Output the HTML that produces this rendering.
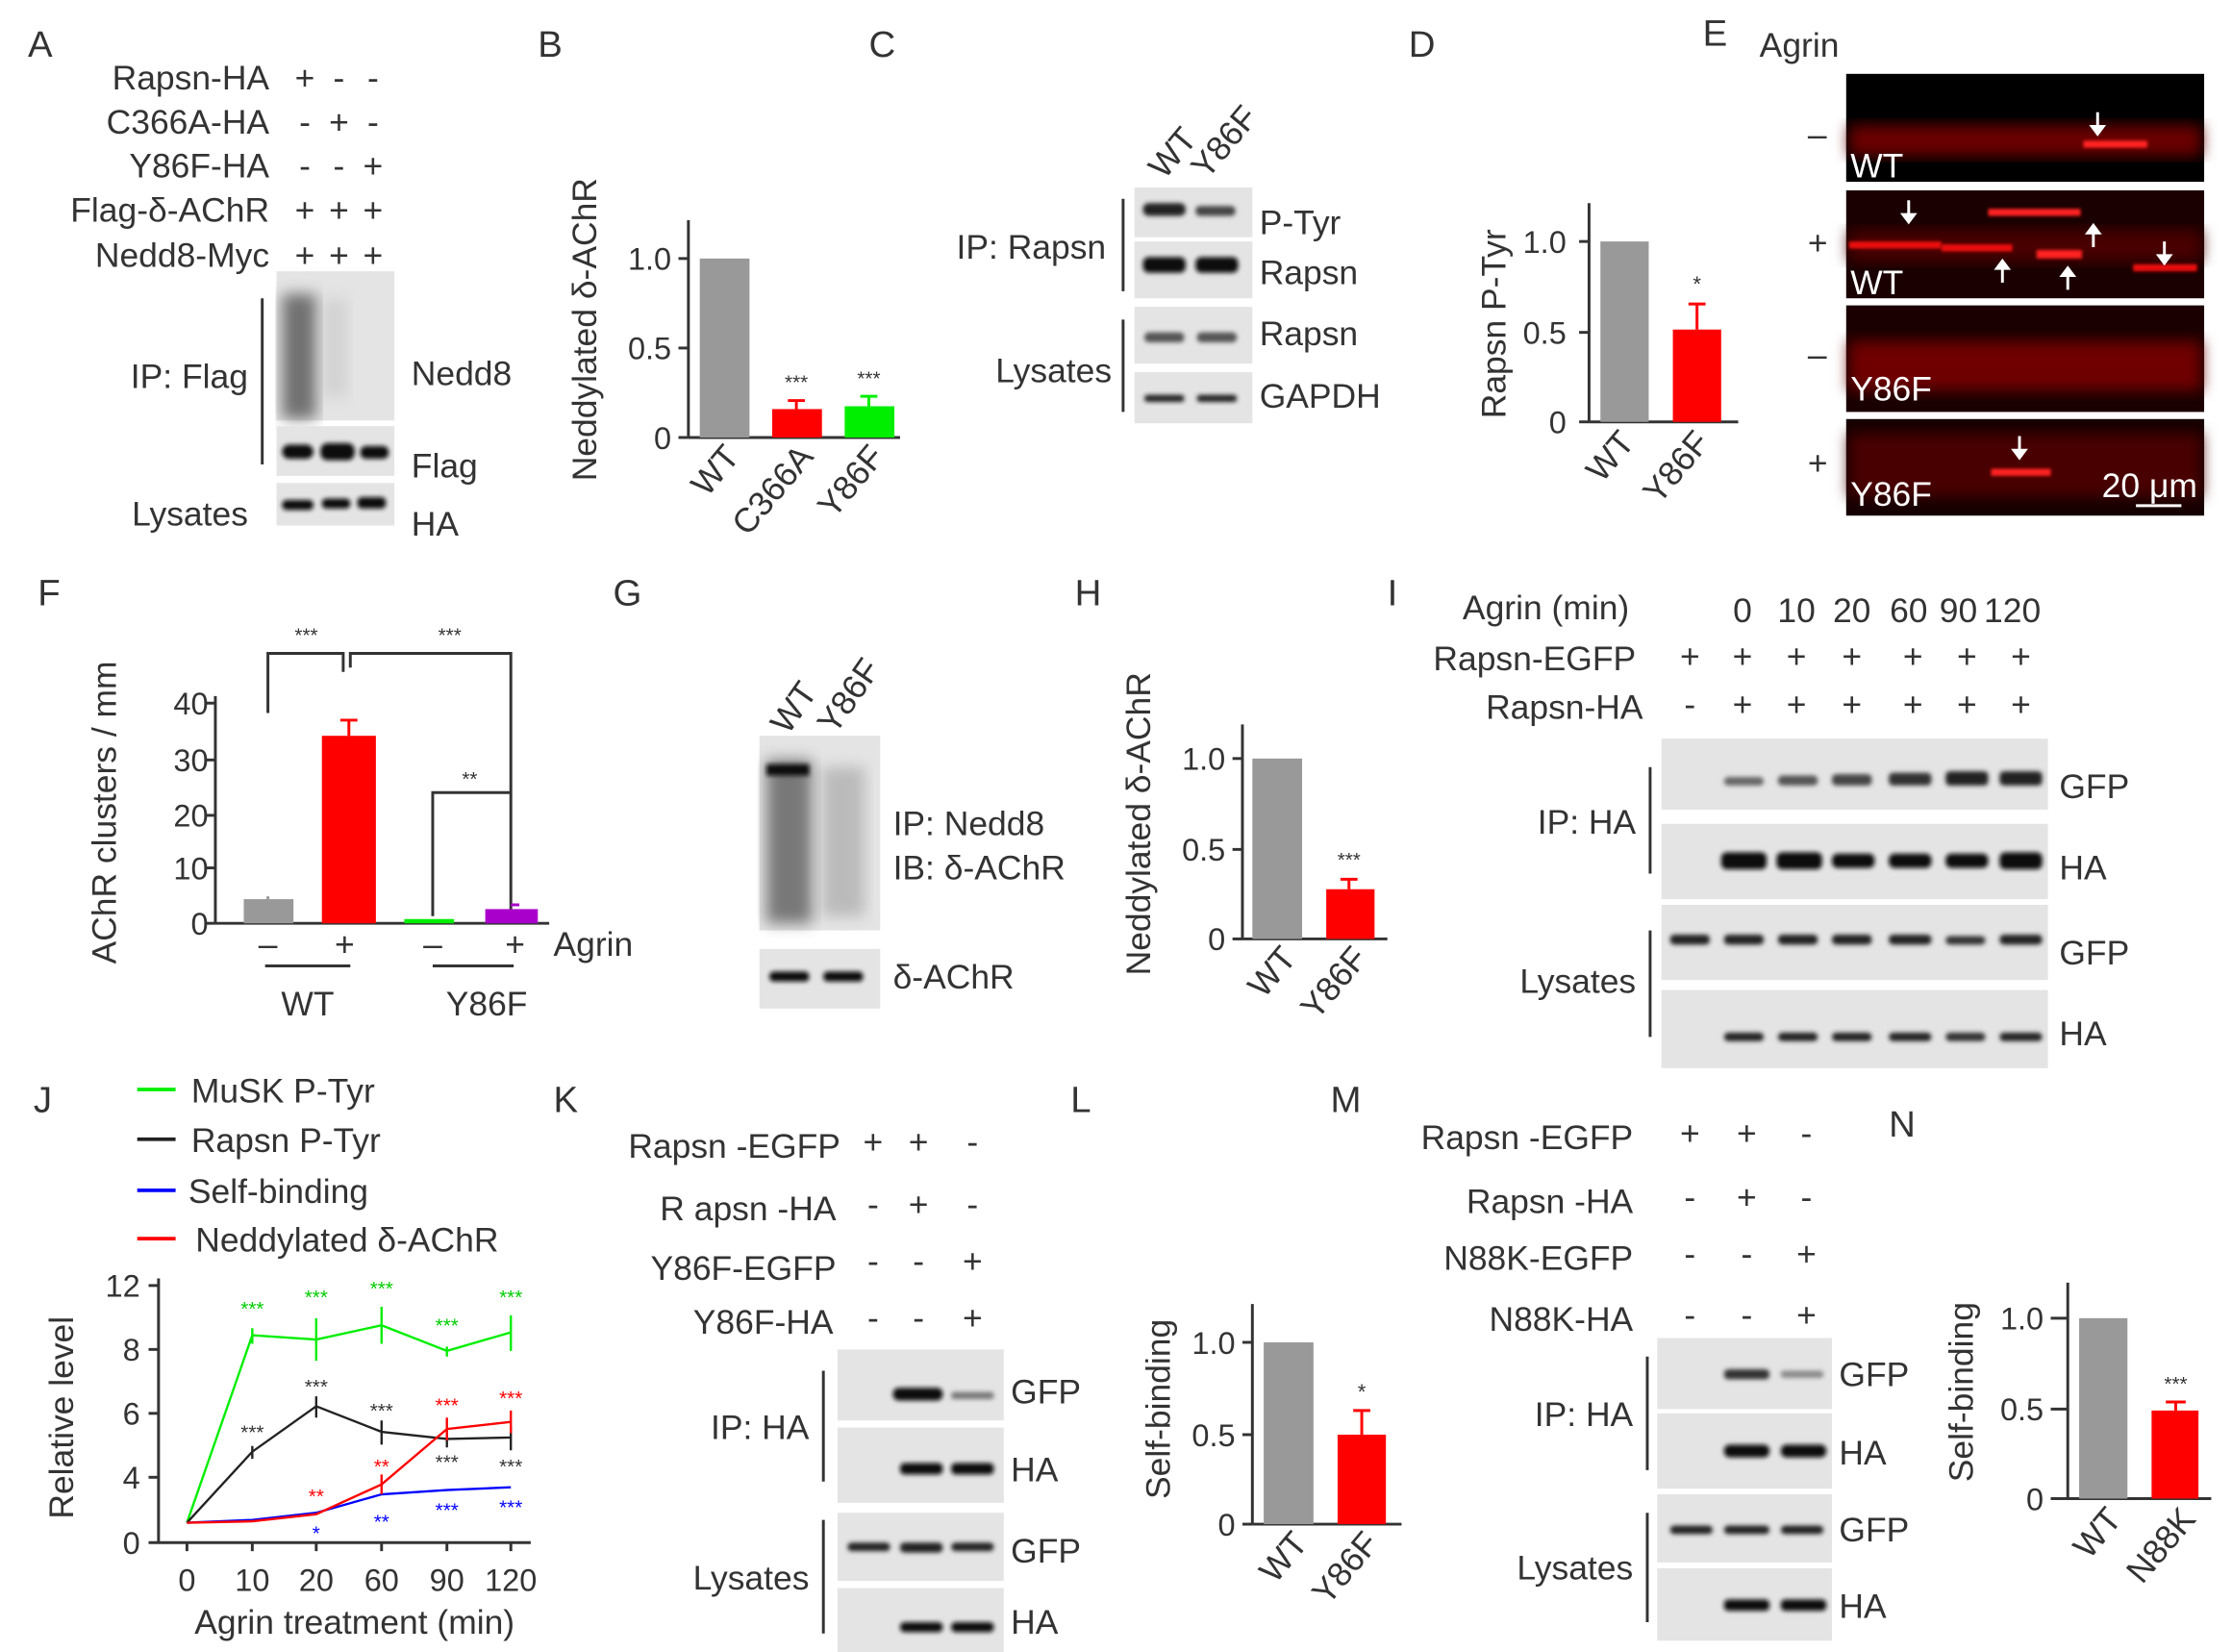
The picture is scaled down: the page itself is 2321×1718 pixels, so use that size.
<!DOCTYPE html>
<html><head><meta charset="utf-8"><style>
html,body{margin:0;padding:0;background:#fff;}
svg{display:block;}
text{font-family:"Liberation Sans",Arial,sans-serif;fill:#333;}
</style></head><body>
<svg width="2321" height="1718" viewBox="0 0 1568 1163" xmlns="http://www.w3.org/2000/svg">
<defs>
<filter id="bl" x="-20%" y="-50%" width="140%" height="200%"><feGaussianBlur stdDeviation="1.6"/></filter>
<filter id="bl2" x="-20%" y="-20%" width="140%" height="140%"><feGaussianBlur stdDeviation="5"/></filter>
<filter id="bl3" x="-20%" y="-50%" width="140%" height="200%"><feGaussianBlur stdDeviation="1"/></filter>
</defs>
<g font-size="26">
<text x="18" y="40">A</text><text x="377" y="40">B</text><text x="610" y="40">C</text><text x="990" y="40">D</text><text x="1197" y="32">E</text>
<text x="25" y="426">F</text><text x="430" y="426">G</text><text x="755" y="426">H</text><text x="975" y="426">I</text>
<text x="22" y="783">J</text><text x="388" y="783">K</text><text x="752" y="783">L</text><text x="935" y="783">M</text><text x="1328" y="800">N</text>
</g>

<!-- Panel A -->
<g font-size="24">
<g text-anchor="end">
<text x="188" y="63">Rapsn-HA</text><text x="188" y="94">C366A-HA</text><text x="188" y="125">Y86F-HA</text><text x="188" y="156">Flag-δ-AChR</text><text x="188" y="188">Nedd8-Myc</text>
<text x="173" y="273">IP: Flag</text><text x="173" y="370">Lysates</text>
</g>
<g text-anchor="middle">
<text x="213" y="63">+</text><text x="237" y="63">-</text><text x="261" y="63">-</text>
<text x="213" y="94">-</text><text x="237" y="94">+</text><text x="261" y="94">-</text>
<text x="213" y="125">-</text><text x="237" y="125">-</text><text x="261" y="125">+</text>
<text x="213" y="156">+</text><text x="237" y="156">+</text><text x="261" y="156">+</text>
<text x="213" y="188">+</text><text x="237" y="188">+</text><text x="261" y="188">+</text></g>
<text x="288" y="271">Nedd8</text><text x="288" y="336">Flag</text><text x="288" y="377">HA</text>
</g>
<line x1="183" y1="210" x2="183" y2="327" stroke="#333" stroke-width="2"/>
<rect x="193" y="191" width="83" height="105" fill="#e4e4e4"/>
<rect x="197" y="207" width="24" height="88" fill="#555" filter="url(#bl2)" opacity="0.8"/>
<rect x="225" y="210" width="18" height="70" fill="#aaa" filter="url(#bl2)" opacity="0.3"/>
<rect x="193" y="300" width="83" height="35" fill="#e4e4e4"/>
<rect x="197" y="313" width="22" height="10" rx="5" fill="#111" filter="url(#bl)"/><rect x="224" y="312" width="24" height="12" rx="5" fill="#111" filter="url(#bl)"/><rect x="252" y="314" width="20" height="9" rx="4" fill="#111" filter="url(#bl)"/>
<rect x="193" y="340" width="83" height="30" fill="#e4e4e4"/>
<rect x="197" y="352" width="22" height="7" rx="3" fill="#111" filter="url(#bl)"/><rect x="225" y="351" width="20" height="7" rx="3" fill="#111" filter="url(#bl)"/><rect x="250" y="350" width="20" height="8" rx="3" fill="#111" filter="url(#bl)"/>

<!-- Panel B -->
<g stroke="#333" stroke-width="2" fill="none">
<line x1="483" y1="155" x2="483" y2="308"/><line x1="483" y1="308" x2="632" y2="308"/>
<line x1="476" y1="182" x2="483" y2="182"/><line x1="476" y1="245" x2="483" y2="245"/><line x1="476" y1="308" x2="483" y2="308"/>
</g>
<rect x="491" y="182" width="35" height="126" fill="#999"/>
<rect x="542" y="288" width="35" height="20" fill="#f00"/><line x1="559" y1="282" x2="559" y2="288" stroke="#f00" stroke-width="2"/><line x1="553" y1="282" x2="565" y2="282" stroke="#f00" stroke-width="2"/>
<rect x="593" y="286" width="35" height="22" fill="#0e0"/><line x1="610" y1="279" x2="610" y2="286" stroke="#0e0" stroke-width="2"/><line x1="604" y1="279" x2="616" y2="279" stroke="#0e0" stroke-width="2"/>
<g font-size="22" text-anchor="end"><text x="471" y="190">1.0</text><text x="471" y="253">0.5</text><text x="471" y="316">0</text></g>
<g font-size="14" text-anchor="middle"><text x="559" y="274">***</text><text x="610" y="271">***</text></g>
<text transform="translate(418,232) rotate(-90)" font-size="24" text-anchor="middle">Neddylated δ-AChR</text>
<g font-size="24" text-anchor="end"><text transform="translate(520,322) rotate(-50)">WT</text><text transform="translate(572,322) rotate(-50)">C366A</text><text transform="translate(622,322) rotate(-50)">Y86F</text></g>

<!-- Panel C -->
<g font-size="24"><text transform="translate(818,127) rotate(-50)">WT</text><text transform="translate(848,127) rotate(-50)">Y86F</text>
<text x="885" y="165">P-Tyr</text><text x="885" y="200">Rapsn</text><text x="885" y="243">Rapsn</text><text x="885" y="287">GAPDH</text>
<text x="777" y="182" text-anchor="end">IP: Rapsn</text><text x="781" y="269" text-anchor="end">Lysates</text></g>
<line x1="789" y1="140" x2="789" y2="205" stroke="#333" stroke-width="2"/><line x1="789" y1="225" x2="789" y2="290" stroke="#333" stroke-width="2"/>
<rect x="797" y="132" width="83" height="35" fill="#e4e4e4"/><rect x="797" y="170" width="83" height="40" fill="#e4e4e4"/><rect x="797" y="216" width="83" height="40" fill="#e4e4e4"/><rect x="797" y="262" width="83" height="36" fill="#e4e4e4"/>
<rect x="803" y="143" width="30" height="9" rx="4" fill="#222" filter="url(#bl)"/><rect x="840" y="145" width="28" height="7" rx="3" fill="#444" filter="url(#bl)"/>
<rect x="803" y="181" width="30" height="11" rx="4" fill="#111" filter="url(#bl)"/><rect x="840" y="181" width="30" height="11" rx="4" fill="#111" filter="url(#bl)"/>
<rect x="804" y="234" width="28" height="7" rx="3" fill="#555" filter="url(#bl)"/><rect x="841" y="234" width="28" height="7" rx="3" fill="#555" filter="url(#bl)"/>
<rect x="804" y="278" width="28" height="5" rx="2" fill="#222" filter="url(#bl)"/><rect x="841" y="278" width="28" height="5" rx="2" fill="#222" filter="url(#bl)"/>

<!-- Panel D -->
<g stroke="#333" stroke-width="2"><line x1="1117" y1="143" x2="1117" y2="297"/><line x1="1117" y1="297" x2="1222" y2="297"/>
<line x1="1110" y1="170" x2="1117" y2="170"/><line x1="1110" y1="234" x2="1117" y2="234"/><line x1="1110" y1="297" x2="1117" y2="297"/></g>
<rect x="1125" y="170" width="34" height="127" fill="#999"/>
<rect x="1176" y="232" width="34" height="65" fill="#f00"/><line x1="1193" y1="214" x2="1193" y2="232" stroke="#f00" stroke-width="2"/><line x1="1187" y1="214" x2="1199" y2="214" stroke="#f00" stroke-width="2"/>
<text x="1193" y="205" font-size="15" text-anchor="middle">*</text>
<g font-size="22" text-anchor="end"><text x="1101" y="178">1.0</text><text x="1101" y="242">0.5</text><text x="1101" y="305">0</text></g>
<text transform="translate(1058,228) rotate(-90)" font-size="24" text-anchor="middle">Rapsn P-Tyr</text>
<g font-size="24" text-anchor="end"><text transform="translate(1150,312) rotate(-50)">WT</text><text transform="translate(1203,312) rotate(-50)">Y86F</text></g>

<!-- Panel E -->
<text x="1237" y="40" font-size="24">Agrin</text>
<g font-size="24"><text x="1271" y="103">–</text><text x="1271" y="179">+</text><text x="1271" y="258">–</text><text x="1271" y="334">+</text></g>
<rect x="1298" y="52" width="252" height="76" fill="#000"/>
<rect x="1300" y="88" width="248" height="22" fill="#6a0000" filter="url(#bl2)"/>
<rect x="1465" y="99" width="45" height="5" fill="#f22" filter="url(#bl3)"/>
<rect x="1298" y="134" width="252" height="76" fill="#1a0000"/>
<rect x="1300" y="162" width="248" height="22" fill="#4a0000" filter="url(#bl2)"/>
<rect x="1398" y="147" width="65" height="5" fill="#f22" filter="url(#bl3)"/><rect x="1300" y="170" width="65" height="5" fill="#e11" filter="url(#bl3)"/><rect x="1365" y="172" width="50" height="5" fill="#e11" filter="url(#bl3)"/><rect x="1432" y="176" width="32" height="6" fill="#f22" filter="url(#bl3)"/><rect x="1500" y="186" width="45" height="5" fill="#e11" filter="url(#bl3)"/>
<rect x="1298" y="215" width="252" height="75" fill="#1a0000"/><rect x="1300" y="240" width="248" height="35" fill="#700000" filter="url(#bl2)"/>
<rect x="1298" y="295" width="252" height="68" fill="#150000"/><rect x="1300" y="305" width="248" height="45" fill="#4a0000" filter="url(#bl2)"/><rect x="1400" y="330" width="42" height="5" fill="#f22" filter="url(#bl3)"/>
<g font-size="24"><text x="1301" y="125" style="fill:#fff">WT</text><text x="1301" y="207" style="fill:#fff">WT</text><text x="1301" y="282" style="fill:#fff">Y86F</text><text x="1301" y="356" style="fill:#fff">Y86F</text><text x="1478" y="350" style="fill:#fff">20 μm</text></g>
<line x1="1502" y1="356" x2="1534" y2="356" stroke="#fff" stroke-width="2"/>
<g fill="#fff" stroke="#fff" stroke-width="2">
<line x1="1475" y1="79" x2="1475" y2="90"/><polygon points="1469,88 1481,88 1475,96" stroke="none"/>
<line x1="1342" y1="141" x2="1342" y2="152"/><polygon points="1336,150 1348,150 1342,158" stroke="none"/>
<line x1="1522" y1="170" x2="1522" y2="181"/><polygon points="1516,179 1528,179 1522,187" stroke="none"/>
<line x1="1408" y1="188" x2="1408" y2="199"/><polygon points="1402,190 1414,190 1408,182" stroke="none"/>
<line x1="1454" y1="193" x2="1454" y2="204"/><polygon points="1448,195 1460,195 1454,187" stroke="none"/>
<line x1="1472" y1="163" x2="1472" y2="174"/><polygon points="1466,165 1478,165 1472,157" stroke="none"/>
<line x1="1420" y1="307" x2="1420" y2="318"/><polygon points="1414,316 1426,316 1420,324" stroke="none"/>
</g>

<!-- Panel F -->
<g stroke="#333" stroke-width="2" fill="none"><line x1="150" y1="490" x2="150" y2="650"/><line x1="150" y1="650" x2="385" y2="650"/>
<line x1="143" y1="495" x2="150" y2="495"/><line x1="143" y1="535" x2="150" y2="535"/><line x1="143" y1="574" x2="150" y2="574"/><line x1="143" y1="611" x2="150" y2="611"/><line x1="143" y1="650" x2="150" y2="650"/>
<polyline points="187,502 187,460 240,460 240,473"/><polyline points="245,470 245,460 358,460 358,650"/><polyline points="303,645 303,558 358,558"/>
<line x1="185" y1="680" x2="245" y2="680"/><line x1="303" y1="680" x2="360" y2="680"/></g>
<rect x="170" y="633" width="35" height="17" fill="#999"/><line x1="187" y1="631" x2="187" y2="633" stroke="#999" stroke-width="2"/>
<rect x="225" y="518" width="38" height="132" fill="#f00"/><line x1="244" y1="507" x2="244" y2="518" stroke="#f00" stroke-width="2"/><line x1="238" y1="507" x2="250" y2="507" stroke="#f00" stroke-width="2"/>
<rect x="283" y="647" width="35" height="3" fill="#0e0"/>
<rect x="340" y="640" width="37" height="10" fill="#a0c"/><line x1="358" y1="637" x2="364" y2="637" stroke="#a0c" stroke-width="2"/>
<g font-size="22" text-anchor="end"><text x="145" y="503">40</text><text x="145" y="543">30</text><text x="145" y="582">20</text><text x="145" y="619">10</text><text x="145" y="658">0</text></g>
<g font-size="14" text-anchor="middle"><text x="214" y="452">***</text><text x="315" y="452">***</text><text x="329" y="553">**</text></g>
<g font-size="24" text-anchor="middle"><text x="187" y="673">–</text><text x="241" y="673">+</text><text x="303" y="673">–</text><text x="361" y="673">+</text><text x="215" y="715">WT</text><text x="341" y="715">Y86F</text></g>
<text x="388" y="673" font-size="24">Agrin</text>
<text transform="translate(80,572) rotate(-90)" font-size="24" text-anchor="middle">AChR clusters / mm</text>

<!-- Panel G -->
<g font-size="24"><text transform="translate(553,518) rotate(-55)">WT</text><text transform="translate(586,518) rotate(-55)">Y86F</text>
<text x="627" y="588">IP: Nedd8</text><text x="627" y="619">IB: δ-AChR</text><text x="627" y="696">δ-AChR</text></g>
<rect x="533" y="518" width="85" height="137" fill="#e4e4e4"/>
<rect x="538" y="535" width="32" height="115" fill="#555" filter="url(#bl2)" opacity="0.75"/><rect x="577" y="540" width="30" height="105" fill="#888" filter="url(#bl2)" opacity="0.45"/>
<rect x="538" y="538" width="30" height="8" fill="#111" filter="url(#bl)"/>
<rect x="533" y="668" width="85" height="42" fill="#e4e4e4"/>
<rect x="540" y="684" width="28" height="7" rx="3" fill="#111" filter="url(#bl)"/><rect x="578" y="684" width="28" height="7" rx="3" fill="#111" filter="url(#bl)"/>

<!-- Panel H -->
<g stroke="#333" stroke-width="2"><line x1="873" y1="510" x2="873" y2="661"/><line x1="873" y1="661" x2="975" y2="661"/>
<line x1="866" y1="534" x2="873" y2="534"/><line x1="866" y1="598" x2="873" y2="598"/><line x1="866" y1="661" x2="873" y2="661"/></g>
<rect x="880" y="534" width="35" height="127" fill="#999"/>
<rect x="932" y="626" width="34" height="35" fill="#f00"/><line x1="948" y1="619" x2="948" y2="626" stroke="#f00" stroke-width="2"/><line x1="942" y1="619" x2="954" y2="619" stroke="#f00" stroke-width="2"/>
<text x="948" y="610" font-size="14" text-anchor="middle">***</text>
<g font-size="22" text-anchor="end"><text x="861" y="542">1.0</text><text x="861" y="606">0.5</text><text x="861" y="669">0</text></g>
<text transform="translate(808,580) rotate(-90)" font-size="24" text-anchor="middle">Neddylated δ-AChR</text>
<g font-size="24" text-anchor="end"><text transform="translate(912,675) rotate(-50)">WT</text><text transform="translate(962,675) rotate(-50)">Y86F</text></g>

<!-- Panel I -->
<g font-size="24"><text x="1028" y="436">Agrin (min)</text><text x="1150" y="472" text-anchor="end">Rapsn-EGFP</text><text x="1155" y="506" text-anchor="end">Rapsn-HA</text>
<g text-anchor="middle"><text x="1225" y="438">0</text><text x="1263" y="438">10</text><text x="1302" y="438">20</text><text x="1342" y="438">60</text><text x="1377" y="438">90</text><text x="1415" y="438">120</text>
<text x="1188" y="470">+</text><text x="1225" y="470">+</text><text x="1263" y="470">+</text><text x="1302" y="470">+</text><text x="1345" y="470">+</text><text x="1383" y="470">+</text><text x="1421" y="470">+</text>
<text x="1188" y="504">-</text><text x="1225" y="504">+</text><text x="1263" y="504">+</text><text x="1302" y="504">+</text><text x="1345" y="504">+</text><text x="1383" y="504">+</text><text x="1421" y="504">+</text></g>
<text x="1448" y="562">GFP</text><text x="1448" y="619">HA</text><text x="1448" y="679">GFP</text><text x="1448" y="736">HA</text>
<text x="1150" y="587" text-anchor="end">IP: HA</text><text x="1150" y="699" text-anchor="end">Lysates</text></g>
<line x1="1160" y1="540" x2="1160" y2="615" stroke="#333" stroke-width="2"/><line x1="1160" y1="655" x2="1160" y2="730" stroke="#333" stroke-width="2"/>
<rect x="1168" y="520" width="272" height="50" fill="#e4e4e4"/><rect x="1168" y="580" width="272" height="53" fill="#e4e4e4"/><rect x="1168" y="637" width="272" height="53" fill="#e4e4e4"/><rect x="1168" y="697" width="272" height="55" fill="#e4e4e4"/>
<g filter="url(#bl)">
<rect x="1212" y="547" width="28" height="6" rx="3" fill="#666"/><rect x="1250" y="546" width="28" height="7" rx="3" fill="#555"/><rect x="1288" y="545" width="28" height="8" rx="3" fill="#444"/><rect x="1328" y="544" width="30" height="9" rx="3" fill="#333"/><rect x="1368" y="543" width="30" height="10" rx="3" fill="#222"/><rect x="1406" y="543" width="30" height="10" rx="3" fill="#222"/>
<rect x="1210" y="600" width="32" height="12" rx="4" fill="#111"/><rect x="1249" y="600" width="32" height="12" rx="4" fill="#111"/><rect x="1288" y="601" width="30" height="10" rx="4" fill="#111"/><rect x="1328" y="601" width="30" height="10" rx="4" fill="#111"/><rect x="1368" y="601" width="30" height="10" rx="4" fill="#111"/><rect x="1406" y="600" width="30" height="12" rx="4" fill="#111"/>
<rect x="1174" y="658" width="28" height="7" rx="3" fill="#222"/><rect x="1212" y="658" width="28" height="7" rx="3" fill="#222"/><rect x="1250" y="658" width="28" height="7" rx="3" fill="#222"/><rect x="1288" y="658" width="28" height="7" rx="3" fill="#222"/><rect x="1328" y="658" width="30" height="7" rx="3" fill="#222"/><rect x="1368" y="659" width="28" height="6" rx="3" fill="#333"/><rect x="1406" y="658" width="30" height="7" rx="3" fill="#222"/>
<rect x="1212" y="727" width="28" height="6" rx="3" fill="#222"/><rect x="1250" y="727" width="28" height="6" rx="3" fill="#222"/><rect x="1288" y="727" width="28" height="6" rx="3" fill="#222"/><rect x="1328" y="727" width="30" height="6" rx="3" fill="#222"/><rect x="1368" y="727" width="28" height="6" rx="3" fill="#333"/><rect x="1406" y="727" width="30" height="6" rx="3" fill="#222"/>
</g>

<!-- Panel J -->
<g stroke-width="2.5"><line x1="95" y1="767" x2="122" y2="767" stroke="#0e0"/><line x1="95" y1="802" x2="122" y2="802" stroke="#222"/><line x1="95" y1="838" x2="122" y2="838" stroke="#00f"/><line x1="95" y1="872" x2="122" y2="872" stroke="#f00"/></g>
<g font-size="24"><text x="133" y="776">MuSK P-Tyr</text><text x="133" y="811">Rapsn P-Tyr</text><text x="131" y="847">Self-binding</text><text x="136" y="881">Neddylated δ-AChR</text></g>
<g stroke="#333" stroke-width="2"><line x1="110" y1="900" x2="110" y2="1086"/><line x1="103" y1="1086" x2="372" y2="1086"/>
<line x1="103" y1="905" x2="110" y2="905"/><line x1="103" y1="950" x2="110" y2="950"/><line x1="103" y1="995" x2="110" y2="995"/><line x1="103" y1="1040" x2="110" y2="1040"/>
<line x1="130" y1="1086" x2="130" y2="1092"/><line x1="176" y1="1086" x2="176" y2="1092"/><line x1="221" y1="1086" x2="221" y2="1092"/><line x1="267" y1="1086" x2="267" y2="1092"/><line x1="313" y1="1086" x2="313" y2="1092"/><line x1="358" y1="1086" x2="358" y2="1092"/></g>
<g font-size="22" text-anchor="end"><text x="97" y="913">12</text><text x="97" y="958">8</text><text x="97" y="1003">6</text><text x="97" y="1048">4</text><text x="97" y="1094">0</text></g>
<g font-size="22" text-anchor="middle"><text x="130" y="1120">0</text><text x="176" y="1120">10</text><text x="221" y="1120">20</text><text x="267" y="1120">60</text><text x="313" y="1120">90</text><text x="358" y="1120">120</text></g>
<text x="248" y="1150" font-size="24" text-anchor="middle">Agrin treatment (min)</text>
<text transform="translate(50,998) rotate(-90)" font-size="24" text-anchor="middle">Relative level</text>
<g fill="none" stroke-width="1.6">
<polyline stroke="#0e0" points="130,1072 176,940 221,943 267,933 313,951 358,938"/>
<path stroke="#0e0" d="M176,935V946M221,928V958M267,920V946M313,948V955M358,926V951"/>
<polyline stroke="#222" points="130,1072 176,1022 221,990 267,1008 313,1013 358,1012"/>
<path stroke="#222" d="M176,1018V1027M221,983V998M267,1000V1017M313,1007V1019M358,1004V1021"/>
<polyline stroke="#00f" points="130,1072 176,1070 221,1065 267,1052 313,1049 358,1047"/>
<polyline stroke="#f00" points="130,1072 176,1071 221,1066 267,1045 313,1006 358,1001"/>
<path stroke="#f00" d="M267,1038V1052M313,998V1014M358,993V1009"/>
</g>
<g font-size="14" text-anchor="middle">
<text x="176" y="926" style="fill:#0c0">***</text><text x="221" y="918" style="fill:#0c0">***</text><text x="267" y="912" style="fill:#0c0">***</text><text x="313" y="938" style="fill:#0c0">***</text><text x="358" y="918" style="fill:#0c0">***</text>
<text x="176" y="1013">***</text><text x="221" y="981">***</text><text x="267" y="998">***</text><text x="313" y="1034">***</text><text x="358" y="1037">***</text>
<text x="221" y="1058" style="fill:#f00">**</text><text x="267" y="1037" style="fill:#f00">**</text><text x="313" y="994" style="fill:#f00">***</text><text x="358" y="989" style="fill:#f00">***</text>
<text x="221" y="1084" style="fill:#00f">*</text><text x="267" y="1076" style="fill:#00f">**</text><text x="313" y="1068" style="fill:#00f">***</text><text x="358" y="1066" style="fill:#00f">***</text>
</g>

<!-- Panel K -->
<g font-size="24"><g text-anchor="end"><text x="590" y="815">Rapsn -EGFP</text><text x="587" y="859">R apsn -HA</text><text x="587" y="901">Y86F-EGFP</text><text x="585" y="939">Y86F-HA</text>
<text x="568" y="1013">IP: HA</text><text x="568" y="1119">Lysates</text></g>
<g text-anchor="middle"><text x="613" y="812">+</text><text x="645" y="812">+</text><text x="683" y="812">-</text>
<text x="613" y="856">-</text><text x="645" y="856">+</text><text x="683" y="856">-</text>
<text x="613" y="896">-</text><text x="645" y="896">-</text><text x="683" y="896">+</text>
<text x="613" y="936">-</text><text x="645" y="936">-</text><text x="683" y="936">+</text></g>
<text x="710" y="988">GFP</text><text x="710" y="1043">HA</text><text x="710" y="1100">GFP</text><text x="710" y="1150">HA</text></g>
<line x1="578" y1="965" x2="578" y2="1043" stroke="#333" stroke-width="2"/><line x1="578" y1="1070" x2="578" y2="1150" stroke="#333" stroke-width="2"/>
<rect x="588" y="950" width="117" height="50" fill="#e4e4e4"/><rect x="588" y="1005" width="117" height="53" fill="#e4e4e4"/><rect x="588" y="1065" width="117" height="48" fill="#e4e4e4"/><rect x="588" y="1118" width="117" height="45" fill="#e4e4e4"/>
<g filter="url(#bl)"><rect x="627" y="977" width="35" height="9" rx="4" fill="#111"/><rect x="668" y="980" width="30" height="5" rx="2" fill="#777"/>
<rect x="632" y="1030" width="30" height="8" rx="3" fill="#111"/><rect x="668" y="1030" width="30" height="8" rx="3" fill="#111"/>
<rect x="595" y="1086" width="30" height="6" rx="3" fill="#222"/><rect x="632" y="1086" width="30" height="7" rx="3" fill="#222"/><rect x="668" y="1086" width="30" height="6" rx="3" fill="#222"/>
<rect x="632" y="1142" width="30" height="7" rx="3" fill="#111"/><rect x="668" y="1142" width="30" height="7" rx="3" fill="#111"/></g>

<!-- Panel L -->
<g stroke="#333" stroke-width="2"><line x1="880" y1="918" x2="880" y2="1073"/><line x1="880" y1="1073" x2="985" y2="1073"/>
<line x1="873" y1="945" x2="880" y2="945"/><line x1="873" y1="1010" x2="880" y2="1010"/><line x1="873" y1="1073" x2="880" y2="1073"/></g>
<rect x="888" y="945" width="35" height="128" fill="#999"/>
<rect x="940" y="1010" width="34" height="63" fill="#f00"/><line x1="957" y1="993" x2="957" y2="1010" stroke="#f00" stroke-width="2"/><line x1="951" y1="993" x2="963" y2="993" stroke="#f00" stroke-width="2"/>
<text x="957" y="985" font-size="15" text-anchor="middle">*</text>
<g font-size="22" text-anchor="end"><text x="868" y="953">1.0</text><text x="868" y="1018">0.5</text><text x="868" y="1081">0</text></g>
<text transform="translate(822,992) rotate(-90)" font-size="24" text-anchor="middle">Self-binding</text>
<g font-size="24" text-anchor="end"><text transform="translate(920,1087) rotate(-50)">WT</text><text transform="translate(970,1087) rotate(-50)">Y86F</text></g>

<!-- Panel M -->
<g font-size="24"><g text-anchor="end"><text x="1148" y="809">Rapsn -EGFP</text><text x="1148" y="854">Rapsn -HA</text><text x="1148" y="894">N88K-EGFP</text><text x="1148" y="937">N88K-HA</text>
<text x="1148" y="1004">IP: HA</text><text x="1148" y="1112">Lysates</text></g>
<g text-anchor="middle"><text x="1188" y="806">+</text><text x="1228" y="806">+</text><text x="1270" y="806">-</text>
<text x="1188" y="851">-</text><text x="1228" y="851">+</text><text x="1270" y="851">-</text>
<text x="1188" y="891">-</text><text x="1228" y="891">-</text><text x="1270" y="891">+</text>
<text x="1188" y="934">-</text><text x="1228" y="934">-</text><text x="1270" y="934">+</text></g>
<text x="1293" y="976">GFP</text><text x="1293" y="1031">HA</text><text x="1293" y="1085">GFP</text><text x="1293" y="1139">HA</text></g>
<line x1="1158" y1="955" x2="1158" y2="1035" stroke="#333" stroke-width="2"/><line x1="1158" y1="1065" x2="1158" y2="1142" stroke="#333" stroke-width="2"/>
<rect x="1165" y="942" width="123" height="50" fill="#e4e4e4"/><rect x="1165" y="995" width="123" height="53" fill="#e4e4e4"/><rect x="1165" y="1052" width="123" height="48" fill="#e4e4e4"/><rect x="1165" y="1104" width="123" height="51" fill="#e4e4e4"/>
<g filter="url(#bl)"><rect x="1212" y="964" width="32" height="7" rx="3" fill="#333"/><rect x="1252" y="965" width="30" height="5" rx="2" fill="#888"/>
<rect x="1212" y="1017" width="32" height="9" rx="4" fill="#111"/><rect x="1252" y="1017" width="32" height="9" rx="4" fill="#111"/>
<rect x="1174" y="1074" width="30" height="6" rx="3" fill="#222"/><rect x="1212" y="1074" width="32" height="6" rx="3" fill="#222"/><rect x="1252" y="1074" width="30" height="6" rx="3" fill="#222"/>
<rect x="1212" y="1126" width="32" height="8" rx="3" fill="#111"/><rect x="1252" y="1126" width="32" height="8" rx="3" fill="#111"/></g>

<!-- Panel N -->
<g stroke="#333" stroke-width="2"><line x1="1454" y1="903" x2="1454" y2="1055"/><line x1="1442" y1="1055" x2="1555" y2="1055"/>
<line x1="1442" y1="928" x2="1454" y2="928"/><line x1="1442" y1="992" x2="1454" y2="992"/></g>
<rect x="1462" y="928" width="34" height="127" fill="#999"/>
<rect x="1513" y="993" width="33" height="62" fill="#f00"/><line x1="1530" y1="987" x2="1530" y2="993" stroke="#f00" stroke-width="2"/><line x1="1523" y1="987" x2="1537" y2="987" stroke="#f00" stroke-width="2"/>
<text x="1530" y="979" font-size="14" text-anchor="middle">***</text>
<g font-size="22" text-anchor="end"><text x="1437" y="936">1.0</text><text x="1437" y="1000">0.5</text><text x="1437" y="1063">0</text></g>
<text transform="translate(1387,980) rotate(-90)" font-size="24" text-anchor="middle">Self-binding</text>
<g font-size="24" text-anchor="end"><text transform="translate(1493,1070) rotate(-50)">WT</text><text transform="translate(1545,1070) rotate(-50)">N88K</text></g>
</svg>
</body></html>
